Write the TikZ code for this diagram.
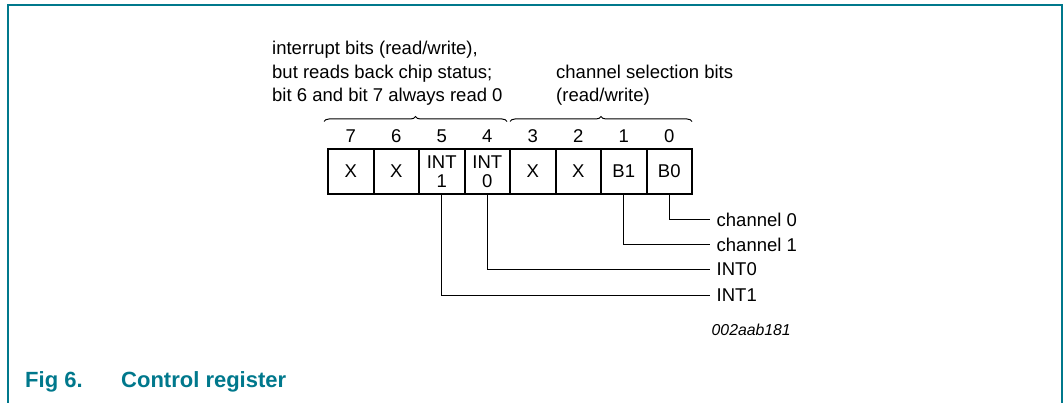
\documentclass[tikz,border=0pt]{standalone}
\usepackage{fontspec}
\setmainfont{Liberation Sans}
\usetikzlibrary{decorations.pathreplacing}
\definecolor{nxpteal}{RGB}{0,120,140}
\tikzset{
  txt/.style={inner sep=0pt, font=\fontsize{18.5}{23.5}\selectfont},
  cell/.style={draw, line width=2pt, minimum width=45.5pt, minimum height=45pt, inner sep=0pt,
    font=\fontsize{18.5}{19.5}\selectfont, align=center},
  bitnum/.style={inner sep=0pt, anchor=base, font=\fontsize{18.5}{22}\selectfont},
  conn/.style={line width=1pt},
  bracestyle/.style={line width=1pt, decorate, decoration={brace, amplitude=5pt}},
  lbl/.style={inner sep=0pt, anchor=west, font=\fontsize{18.5}{22}\selectfont},
}
\begin{document}
\begin{tikzpicture}[x=1pt,y=1pt]
\useasboundingbox (0,0) rectangle (1064,-403);
% frame
\draw[nxpteal, line width=2pt] (8,-403) -- (8,-5) -- (1061.5,-5) -- (1061.5,-403);
% header texts
\node[txt, anchor=base west, align=left] (hdrA) at (272,-102)
  {interrupt bits (read/write),\\but reads back chip status;\\bit 6 and bit 7 always read 0};
\node[txt, anchor=base west, align=left] (hdrB) at (556,-102)
  {channel selection bits\\(read/write)};
% braces
\draw[bracestyle] (324,-121.5) -- (507,-121.5);
\draw[bracestyle] (510,-121.5) -- (692,-121.5);
% cells
\foreach \i/\t [count=\k from 0] in {7/X,6/X,5/{INT\\1},4/{INT\\0},3/X,2/X,1/B1,0/B0}{
  \node[cell] (c\i) at (328+45.5*\k+22.75,-171.5) {\t};
  \node[bitnum] (n\i) at (328+45.5*\k+22.75,-142.3) {\i};
}
% connectors
\coordinate (e0) at (710,-220);
\coordinate (e1) at (710,-244.5);
\coordinate (e2) at (710,-269.5);
\coordinate (e3) at (710,-295);
\draw[conn] (c0.south) |- (e0);
\draw[conn] (c1.south) |- (e1);
\draw[conn] (c4.south) |- (e2);
\draw[conn] (c5.south) |- (e3);
\node[lbl] (l0) at (716.5,-220) {channel 0};
\node[lbl] (l1) at (716.5,-244.5) {channel 1};
\node[lbl] (l2) at (716.5,-269.5) {INT0};
\node[lbl] (l3) at (716.5,-295) {INT1};
% code
\node[inner sep=0pt, anchor=base west, font=\fontsize{15.8}{18}\selectfont\itshape] (code) at (711.5,-335) {002aab181};
% caption
\node[inner sep=0pt, anchor=base west, text=nxpteal, font=\fontsize{22}{26}\selectfont\bfseries] (figno) at (25,-387) {Fig 6.};
\node[inner sep=0pt, anchor=base west, text=nxpteal, font=\fontsize{22}{26}\selectfont\bfseries] (figtitle) at (121,-387) {Control register};
\end{tikzpicture}
\end{document}
